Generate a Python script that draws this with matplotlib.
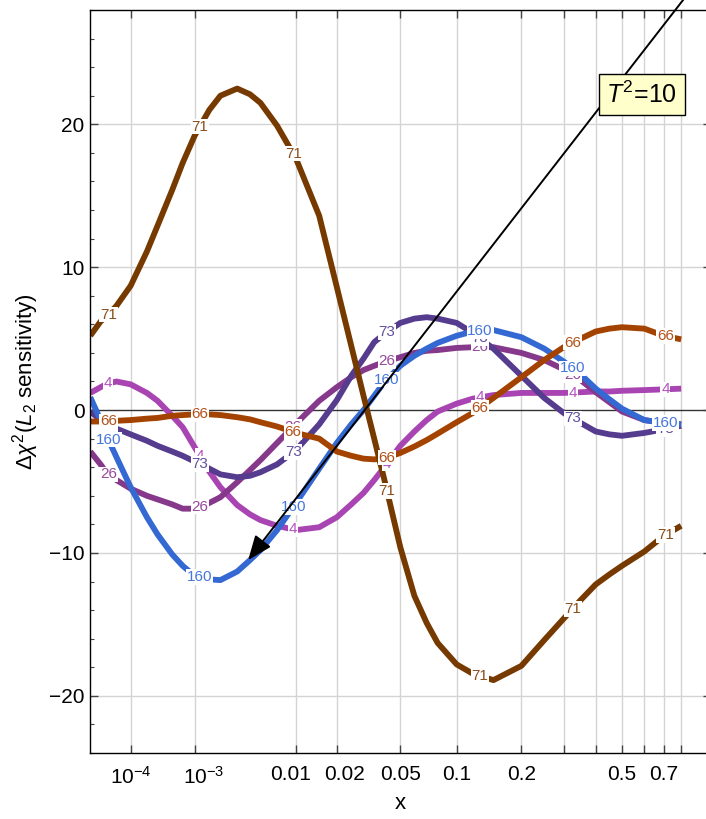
import numpy as np
import matplotlib
matplotlib.use("Agg")
import matplotlib.pyplot as plt
from matplotlib.ticker import FixedLocator, MultipleLocator
import matplotlib.transforms as mtransforms

plt.rcParams['font.family'] = ['Liberation Sans', 'DejaVu Sans']
plt.rcParams['mathtext.fontset'] = 'custom'
plt.rcParams['mathtext.rm'] = 'Liberation Sans'
plt.rcParams['mathtext.it'] = 'Liberation Sans:italic'

# x grid and sensitivity curves
x_grid = [1e-5, 2e-5, 3e-5, 5e-5, 1e-4, 2e-4, 3e-4, 5e-4, 7e-4, 1e-3, 1.5e-3,
          2e-3, 3e-3, 4e-3, 5e-3, 7e-3, 0.01, 0.015, 0.02, 0.025, 0.03, 0.035,
          0.04, 0.05, 0.06, 0.07, 0.08, 0.1, 0.12, 0.15, 0.2, 0.25, 0.3, 0.35,
          0.4, 0.45, 0.5, 0.6, 0.7, 0.8]
y71 = [5.2, 6.2, 6.6, 7.3, 8.7, 11.1, 12.9, 15.4, 17.3, 19.2, 21.0,
       22.0, 22.5, 22.1, 21.5, 19.9, 17.6, 13.6, 8.6, 4.5, 1.0, -2.0,
       -4.7, -9.6, -13.0, -14.9, -16.3, -17.8, -18.45, -18.9, -17.9, -16.1, -14.6, -13.3,
       -12.2, -11.5, -10.9, -9.9, -8.8, -8.1]
y66 = [-0.8, -0.8, -0.8, -0.75, -0.7, -0.6, -0.55, -0.4, -0.35, -0.3, -0.3,
       -0.35, -0.5, -0.65, -0.85, -1.15, -1.6, -2.0, -2.9, -3.2, -3.4, -3.45,
       -3.4, -3.0, -2.55, -2.1, -1.65, -0.85, -0.2, 0.85, 2.3, 3.5, 4.4, 5.0,
       5.5, 5.7, 5.8, 5.7, 5.2, 4.95]
y160 = [0.9, -0.7, -1.9, -3.3, -5.4, -7.5, -8.7, -10.1, -10.9, -11.6, -11.85,
        -11.9, -11.3, -10.5, -9.8, -8.4, -6.5, -4.1, -2.3, -1.0, 0.0, 1.0,
        1.9, 3.1, 3.8, 4.3, 4.7, 5.2, 5.5, 5.6, 5.1, 4.3, 3.4, 2.5,
        1.5, 0.75, 0.1, -0.7, -0.9, -1.0]
y73 = [-0.1, -0.7, -1.0, -1.3, -1.7, -2.15, -2.5, -2.9, -3.2, -3.6, -4.1,
       -4.5, -4.7, -4.6, -4.35, -3.8, -2.8, -1.0, 0.7, 2.4, 3.6, 4.75,
       5.3, 6.1, 6.4, 6.5, 6.4, 6.1, 5.4, 4.3, 2.4, 0.85, -0.2, -0.9,
       -1.5, -1.7, -1.8, -1.6, -1.35, -1.1]
y26 = [-2.9, -3.8, -4.45, -4.9, -5.5, -6.0, -6.25, -6.6, -6.9, -6.9, -6.5,
       -6.1, -5.05, -4.2, -3.5, -2.3, -0.95, 0.65, 1.6, 2.3, 2.8, 3.1,
       3.35, 3.7, 4.0, 4.15, 4.2, 4.35, 4.4, 4.4, 4.0, 3.5, 2.85, 2.1,
       1.25, 0.55, -0.1, -0.7, -0.9, -1.0]
y4 = [1.2, 1.6, 1.85, 2.0, 1.8, 1.2, 0.65, -0.4, -1.2, -2.6, -4.3,
      -5.4, -6.65, -7.3, -7.7, -8.1, -8.4, -8.2, -7.5, -6.6, -5.8, -4.9,
      -4.05, -2.5, -1.5, -0.7, -0.1, 0.45, 0.8, 1.05, 1.2, 1.2, 1.2, 1.25,
      1.3, 1.3, 1.35, 1.4, 1.45, 1.5]

names = ['4', '26', '73', '160', '66', '71']
curves = [y4, y26, y73, y160, y66, y71]
colors = ['#A845B2', '#86388B', '#553C8E', '#3468D2', '#A44200', '#763A00']
text_colors = ['#B352BE', '#95489A', '#62509C', '#4477DC', '#B2521A', '#8A4E1C']
label_x = [3.2e-5, 1.16e-3, 9.5e-3, 0.0418, 0.13, 0.326, 0.709]

tick_vals = [1e-4, 1e-3, 0.01, 0.02, 0.05, 0.1, 0.2, 0.3, 0.4, 0.5, 0.6, 0.7, 0.8]
tick_text = [r'$10^{-4}$', r'$10^{-3}$', '0.01', '0.02', '0.05', '0.1', '0.2',
             '', '', '0.5', '', '0.7', '']


def fwd(x):
    x = np.asarray(x, dtype=float)
    return np.sign(x) * np.abs(x) ** 0.2


def inv(u):
    u = np.asarray(u, dtype=float)
    return np.sign(u) * np.abs(u) ** 5


fig = plt.figure(figsize=(7.06, 8.19), dpi=100)
ax = fig.add_axes([90.3 / 706, 66 / 819, 621 / 706, 743 / 819])
ax.set_xscale('function', functions=(fwd, inv))
ax.set_xlim(1e-5, 1)
ax.set_ylim(-24, 28)

# grid + zero line
for xv in tick_vals:
    ax.axvline(xv, color='#d4d4d4', lw=1.0, zorder=0)
for yv in [-20, -10, 10, 20]:
    ax.axhline(yv, color='#d4d4d4', lw=1.0, zorder=0)
ax.axhline(0, color='#333333', lw=1.0, zorder=1)

xg = np.array(x_grid)
for name, yv, c in zip(names, curves, colors):
    ax.plot(xg, yv, color=c, lw=4.2, solid_capstyle='butt',
            solid_joinstyle='round', zorder=2)
for name, yv, tc in zip(names, curves, text_colors):
    for lx in label_x:
        ly = np.interp(lx ** 0.2, xg ** 0.2, yv)
        ax.text(lx, ly, name, color=tc, fontsize=11, ha='center', va='center',
                zorder=6, bbox=dict(boxstyle='square,pad=0.05', fc='white', ec='none'))

# arrow
ann = ax.annotate('', xy=(3.84e-3, -10.5), xytext=(0.904, 30),
                  arrowprops=dict(arrowstyle='-|>,head_length=0.75,head_width=0.3',
                                  color='black', lw=1.4, mutation_scale=20,
                                  shrinkA=0, shrinkB=0),
                  annotation_clip=False, zorder=7)
ann.arrow_patch.set_clip_on(False)

ax.text(0.888, 0.886, r'$T^2$=10', transform=ax.transAxes, fontsize=18,
        ha='center', va='center', zorder=8,
        bbox=dict(boxstyle='square,pad=0.3', fc='#FFFFCC', ec='black', lw=1.0))

# ticks
ax.xaxis.set_major_locator(FixedLocator(tick_vals))
ax.set_xticklabels(tick_text)
ax.xaxis.set_minor_locator(FixedLocator([]))
ax.set_yticks([-20, -10, 0, 10, 20])
ax.set_yticklabels(['\u221220', '\u221210', '0', '10', '20'])
ax.yaxis.set_minor_locator(MultipleLocator(2))
ax.tick_params(axis='both', which='major', direction='in', top=True, right=True,
               length=6, width=1, color='#444444', labelsize=15)
ax.tick_params(axis='y', which='minor', direction='in', right=True, length=3,
               width=0.8, color='#444444')
ax.tick_params(axis='x', which='major', pad=9)
ax.tick_params(axis='y', which='major', pad=4)

offsets = {r'$10^{-3}$': 9, '0.01': -5, '0.02': 8}
for lab in ax.get_xticklabels():
    dx = offsets.get(lab.get_text(), 0)
    if dx:
        lab.set_transform(lab.get_transform() +
                          mtransforms.ScaledTranslation(dx / 100, 0, fig.dpi_scale_trans))

for sp in ax.spines.values():
    sp.set_linewidth(1.0)

ax.set_xlabel('x', fontsize=16, labelpad=4)
ax.set_ylabel(r'$\Delta\chi^2(L_2$ sensitivity$)$', fontsize=16, labelpad=6)

fig.savefig('out.png', dpi=100)
